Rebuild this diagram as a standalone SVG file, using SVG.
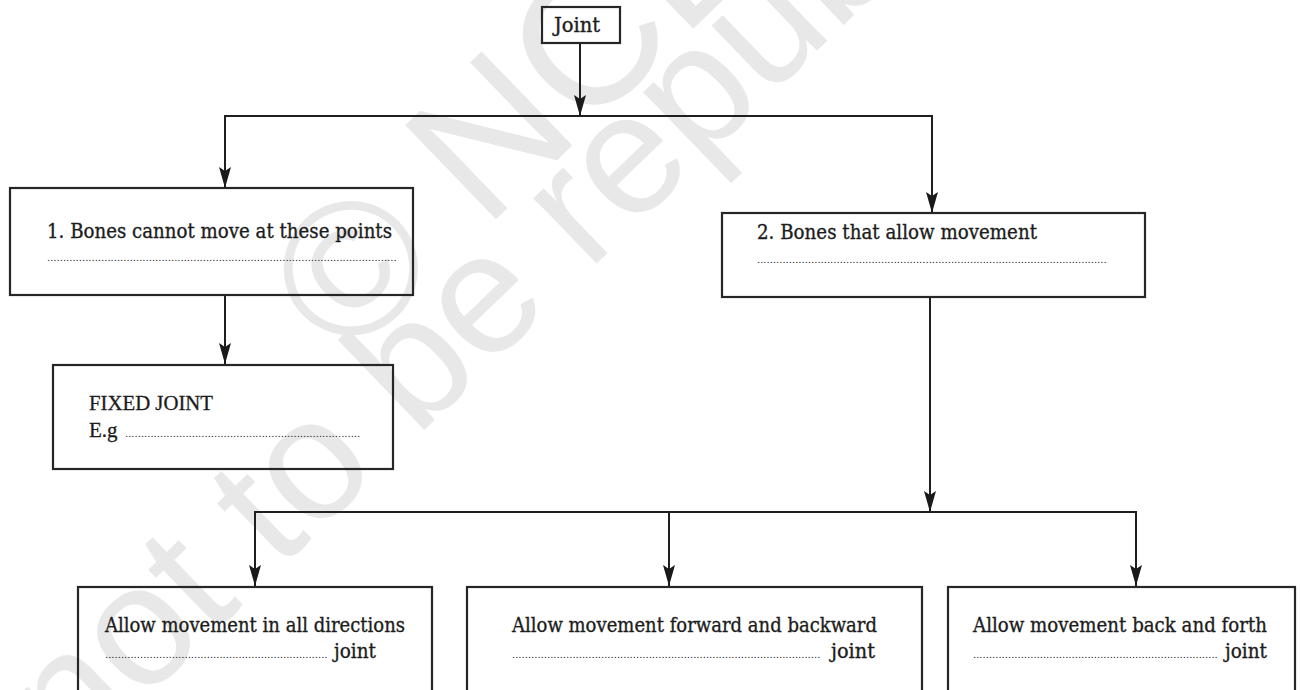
<svg xmlns="http://www.w3.org/2000/svg" width="1300" height="690" viewBox="0 0 1300 690">
  <defs>
    <marker id="arrow" markerUnits="userSpaceOnUse" markerWidth="24" markerHeight="14" viewBox="-22 -7 24 14" refX="0" refY="0" orient="auto">
      <path d="M0,0 L-21,-6 L-17,0 L-21,6 Z" fill="#1a1a1a"/>
    </marker>
  </defs>
  <style>
    .box { fill: none; stroke: #262626; stroke-width: 2.2; }
    .edge { fill: none; stroke: #1f1f1f; stroke-width: 2; marker-end: url(#arrow); }
    .rule { fill: none; stroke: #1f1f1f; stroke-width: 2; }
    .lbl { font-family: "DejaVu Serif", "Liberation Serif", serif; font-size: 19.5px; fill: #1c1c1c; stroke: #1c1c1c; stroke-width: 0.35px; }
    .tms { font-family: "Liberation Serif", "DejaVu Serif", serif; font-size: 21px; fill: #1c1c1c; stroke: #1c1c1c; stroke-width: 0.3px; }
    .dots { font-family: "DejaVu Serif", serif; font-size: 10px; fill: #222; stroke: none; }
    .wm { font-family: "Liberation Sans", Arial, sans-serif; fill: #e8e8e8; }
  </style>

  <rect x="0" y="0" width="1300" height="690" fill="#ffffff"/>

  <!-- faint diagonal watermark behind everything -->
  <g id="watermark">
    <text class="wm" x="346" y="364" font-size="190" transform="rotate(-44 346 364)">© NCERT</text>
    <text class="wm" x="72" y="770" font-size="172" transform="rotate(-44 72 770)">not to be republished</text>
  </g>

  <!-- connectors -->
  <g id="connectors">
    <line class="edge" x1="580" y1="43" x2="580" y2="116"/>
    <line class="rule" x1="224" y1="116" x2="933" y2="116"/>
    <line class="edge" x1="225" y1="116" x2="225" y2="188"/>
    <line class="edge" x1="932" y1="116" x2="932" y2="213"/>
    <line class="edge" x1="225" y1="295" x2="225" y2="364"/>
    <line class="edge" x1="930" y1="297" x2="930" y2="512"/>
    <line class="rule" x1="254" y1="512" x2="1137" y2="512"/>
    <line class="edge" x1="255" y1="512" x2="255" y2="586"/>
    <line class="edge" x1="669" y1="512" x2="669" y2="586"/>
    <line class="edge" x1="1136" y1="512" x2="1136" y2="586"/>
  </g>

  <g id="joint">
    <rect class="box" x="542" y="7" width="78" height="36"/>
    <text class="lbl" x="577" y="32" font-size="18.5" text-anchor="middle">Joint</text>
  </g>

  <g id="immovable">
    <rect class="box" x="10" y="188" width="403" height="107"/>
    <text class="lbl" x="47" y="238" textLength="345" lengthAdjust="spacingAndGlyphs">1. Bones cannot move at these points</text>
    <text class="dots" x="47" y="261">..............................................................................................................</text>
  </g>

  <g id="movable">
    <rect class="box" x="722" y="213" width="423" height="84"/>
    <text class="lbl" x="757" y="239" textLength="280" lengthAdjust="spacingAndGlyphs">2. Bones that allow movement</text>
    <text class="dots" x="757" y="263">..............................................................................................................</text>
  </g>

  <g id="fixed-joint">
    <rect class="box" x="53" y="365" width="340" height="104"/>
    <text class="tms" x="89" y="410" textLength="124" lengthAdjust="spacingAndGlyphs">FIXED JOINT</text>
    <text x="89" y="437"><tspan class="tms">E.g </tspan><tspan class="dots" x="125">..........................................................................</tspan></text>
  </g>

  <g id="all-directions">
    <rect class="box" x="78" y="587" width="354" height="120"/>
    <text class="lbl" x="105" y="632" textLength="300" lengthAdjust="spacingAndGlyphs">Allow movement in all directions</text>
    <text x="105" y="658"><tspan class="dots">......................................................................</tspan><tspan class="lbl" x="334" textLength="42" lengthAdjust="spacingAndGlyphs">joint</tspan></text>
  </g>

  <g id="forward-backward">
    <rect class="box" x="467" y="587" width="455" height="120"/>
    <text class="lbl" x="512" y="632" textLength="365" lengthAdjust="spacingAndGlyphs">Allow movement forward and backward</text>
    <text x="512" y="658"><tspan class="dots">.................................................................................................</tspan><tspan class="lbl" x="831" textLength="44" lengthAdjust="spacingAndGlyphs">joint</tspan></text>
  </g>

  <g id="back-forth">
    <rect class="box" x="948" y="587" width="347" height="120"/>
    <text class="lbl" x="973" y="632" textLength="294" lengthAdjust="spacingAndGlyphs">Allow movement back and forth</text>
    <text x="973" y="658"><tspan class="dots">.............................................................................</tspan><tspan class="lbl" x="1225" textLength="42" lengthAdjust="spacingAndGlyphs">joint</tspan></text>
  </g>
</svg>
